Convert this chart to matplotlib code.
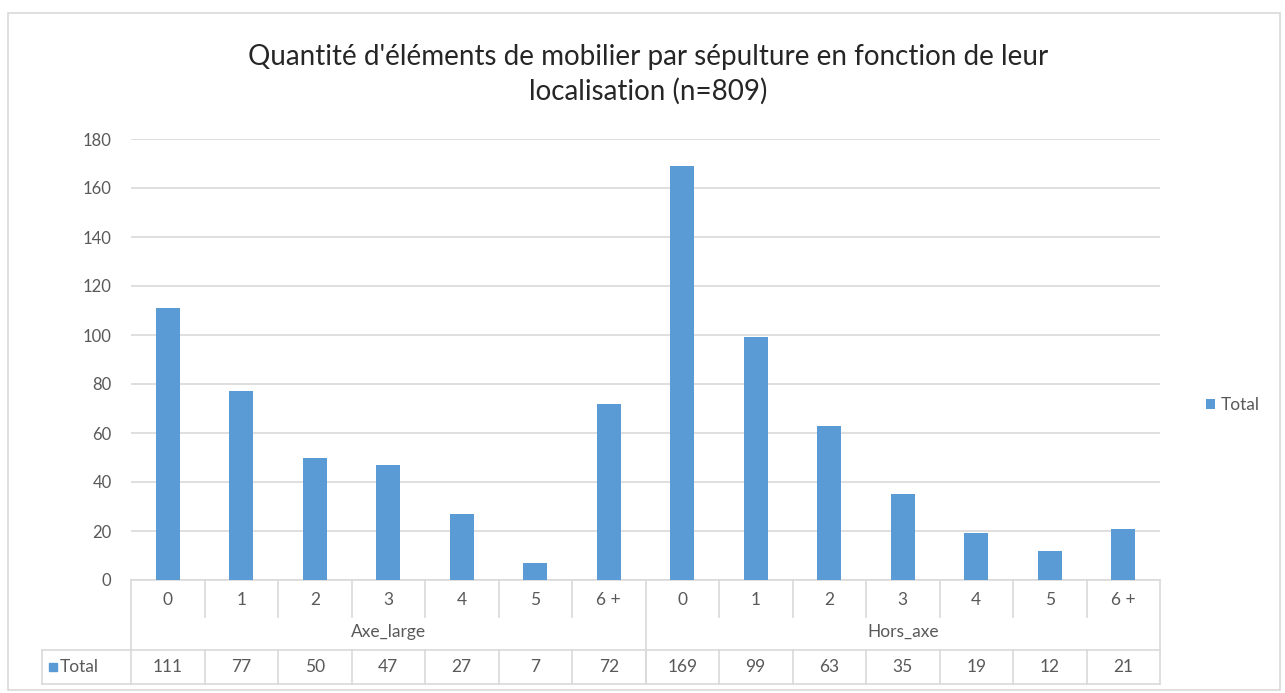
import matplotlib.pyplot as plt
from matplotlib.patches import Rectangle
from matplotlib.transforms import blended_transform_factory
import numpy as np

plt.rcParams['font.family'] = ['Lato', 'DejaVu Sans']

# Données : nombre de sépultures par quantité d'objets, selon la localisation
groups = ['Axe_large', 'Hors_axe']
classes = ['0', '1', '2', '3', '4', '5', '6 +']
axe_large = [111, 77, 50, 47, 27, 7, 72]
hors_axe = [169, 99, 63, 35, 19, 12, 21]
yticks = [0, 20, 40, 60, 80, 100, 120, 140, 160, 180]

values = axe_large + hors_axe
labels = classes + classes
n = len(values)
x = np.arange(n)

W, H = 1285, 693
BLUE = '#5B9BD5'
GRID = '#D9D9D9'
TXT = '#595959'
FS = 12.5

fig = plt.figure(figsize=(W / 100, H / 100), dpi=100)


def box(x0, y0, x1, y1):
    return [x0 / W, 1 - y1 / H, (x1 - x0) / W, (y1 - y0) / H]


def fy(y):
    return 1 - y / H


ax = fig.add_axes(box(131, 139, 1160, 580))
bars = ax.bar(x, values, width=0.33, color=BLUE, label='Total', zorder=3)
ax.set_xlim(-0.5, n - 0.5)
ax.set_ylim(0, 180)
ax.set_yticks(yticks)
ax.set_xticks([])
ax.yaxis.grid(True, color=GRID, lw=1.2)
ax.set_axisbelow(True)
for s in ['top', 'right', 'left']:
    ax.spines[s].set_visible(False)
ax.spines['bottom'].set_color(GRID)
ax.spines['bottom'].set_linewidth(1.2)
ax.tick_params(axis='y', length=0, pad=14, labelsize=12, labelcolor=TXT)

# Tableau de données sous l'axe
tr = blended_transform_factory(ax.transData, fig.transFigure)
left_px = 42 / W
y_row1, y_sep, y_bot = 617, 650, 684
lkw = dict(color=GRID, lw=1.2, clip_on=False)

for i in range(n - 1):
    xb = i + 0.5
    if i == len(classes) - 1:
        continue
    ax.plot([xb, xb], [fy(580), fy(y_row1)], transform=tr, **lkw)
for xb in [-0.5, len(classes) - 0.5, n - 0.5]:
    ax.plot([xb, xb], [fy(580), fy(y_bot)], transform=tr, **lkw)
for i in range(n - 1):
    xb = i + 0.5
    ax.plot([xb, xb], [fy(y_sep), fy(y_bot)], transform=tr, **lkw)

# lignes horizontales du tableau (depuis la case de légende)
for yy in [y_sep, y_bot]:
    fig.add_artist(plt.Line2D([left_px, ax.get_position().x1], [fy(yy), fy(yy)],
                              transform=fig.transFigure, color=GRID, lw=1.2))
fig.add_artist(plt.Line2D([left_px, left_px], [fy(y_sep), fy(y_bot)],
                          transform=fig.transFigure, color=GRID, lw=1.2))

for xi, lab in zip(x, labels):
    ax.text(xi, fy(600), lab, transform=tr, ha='center', va='center',
            fontsize=FS, color=TXT)
for gi, g in enumerate(groups):
    xc = gi * len(classes) + (len(classes) - 1) / 2
    ax.text(xc, fy(632), g, transform=tr, ha='center', va='center',
            fontsize=FS, color=TXT)
for xi, v in zip(x, values):
    ax.text(xi, fy(667), str(v), transform=tr, ha='center', va='center',
            fontsize=FS, color=TXT)

fig.add_artist(Rectangle((49 / W, fy(671)), 8 / W, 8 / H, transform=fig.transFigure,
                         color=BLUE))
fig.text(60 / W, fy(667), 'Total', ha='left', va='center', fontsize=FS, color=TXT)

# Légende à droite
fig.legend(handles=[bars], loc='center left', bbox_to_anchor=(1190 / W, fy(405)),
           frameon=False, handlelength=0.55, handleheight=0.55, handletextpad=0.3,
           fontsize=FS, labelcolor=TXT)

fig.text(648 / W, fy(74),
         "Quantité d'éléments de mobilier par sépulture en fonction de leur\nlocalisation (n=809)",
         ha='center', va='center', fontsize=20, linespacing=1.35, color='#262626')

fig.add_artist(Rectangle((8 / W, fy(690)), 1272 / W, 677 / H, transform=fig.transFigure,
                         fill=False, edgecolor=GRID, lw=1.2))

fig.savefig('out.png', dpi=100)
